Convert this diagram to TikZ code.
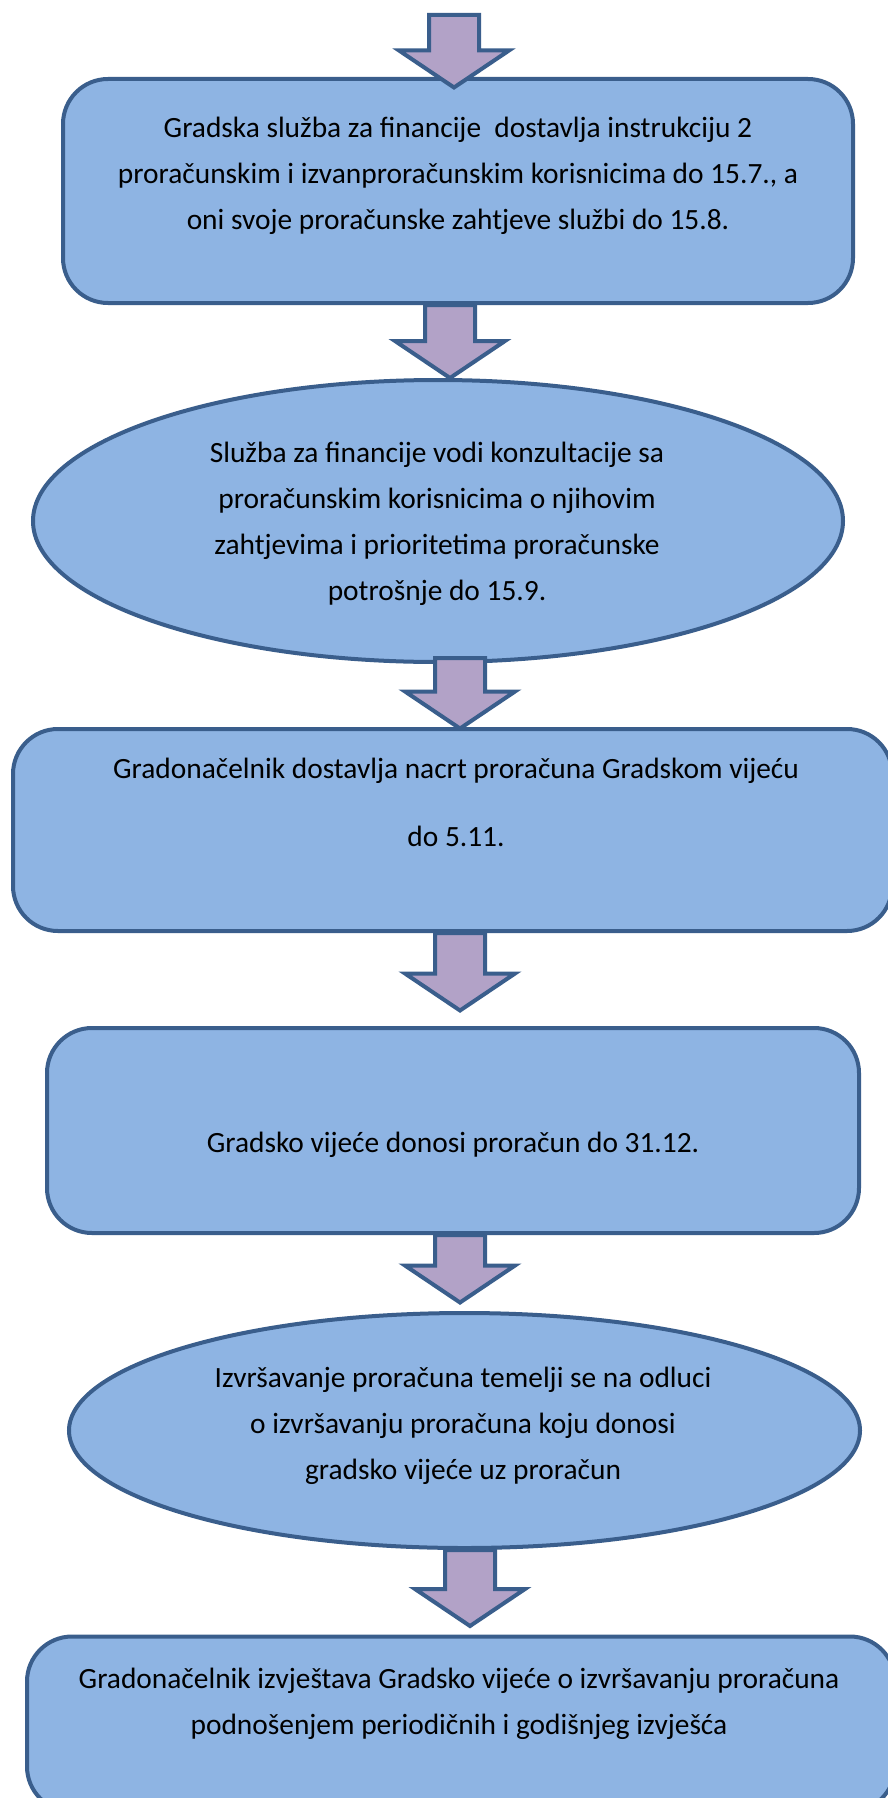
\documentclass[tikz,border=0pt]{standalone}
\usepackage{fontspec}
\setmainfont{Carlito}
\usetikzlibrary{calc,shapes.geometric}
\definecolor{boxfill}{HTML}{8EB4E3}
\definecolor{bord}{HTML}{3A5E8C}
\definecolor{arrfill}{HTML}{B2A2C7}
\newcommand\blockarr[3]{%
  \draw[barrow] let \p1=(#2), \p2=(#3) in
    (#1pt-25pt,\y1) -- (#1pt+25pt,\y1) -- (#1pt+25pt,\y2+37pt) -- (#1pt+55pt,\y2+37pt)
    -- (#1pt,\y2) -- (#1pt-55pt,\y2+37pt) -- (#1pt-25pt,\y2+37pt) -- cycle;}
\newcommand\lines[1]{\begin{tabular}[t]{@{}c@{}}#1\end{tabular}}
\begin{document}
\begin{tikzpicture}[x=1pt,y=-1pt,
  stepbox/.style={draw=bord, fill=boxfill, line width=4pt, rounded corners=45pt, rectangle, inner sep=0pt},
  oval/.style={draw=bord, fill=boxfill, line width=4pt, ellipse, inner sep=0pt},
  barrow/.style={draw=bord, fill=arrfill, line width=4pt, line join=miter},
  txt/.style={anchor=base, inner sep=0pt, font=\fontsize{29.4}{46}\selectfont, text=black}]
\useasboundingbox (0,0) rectangle (888,1798);
\clip (0,0) rectangle (888,1798);
\fill[white] (0,0) rectangle (888,1798);
% shapes
\node[stepbox, minimum width=790pt, minimum height=224pt] (b1) at (458,191) {};
\node[oval, minimum width=810pt, minimum height=282pt] (e1) at (438,521) {};
\node[stepbox, minimum width=879pt, minimum height=202pt] (b3) at (452.5,830) {};
\node[stepbox, minimum width=812pt, minimum height=205pt] (b4) at (453,1130.5) {};
\node[oval, minimum width=791pt, minimum height=235pt] (e2) at (464.5,1430.5) {};
\node[stepbox, minimum width=868pt, minimum height=175pt] (b6) at (461,1724) {};
% texts
\node[txt] (t1) at (458,138) {\lines{Gradska služba za financije \ dostavlja instrukciju 2\\ proračunskim i izvanproračunskim korisnicima do 15.7., a\\ oni svoje proračunske zahtjeve službi do 15.8.}};
\node[txt] (t2) at (437,462) {\lines{Služba za financije vodi konzultacije sa\\ proračunskim korisnicima o njihovim\\ zahtjevima i prioritetima proračunske\\ potrošnje do 15.9.}};
\node[txt] (t3) at (456,778) {\lines{Gradonačelnik dostavlja nacrt proračuna Gradskom vijeću\\[22pt] do 5.11.}};
\node[txt] (t4) at (453,1152) {\lines{Gradsko vijeće donosi proračun do 31.12.}};
\node[txt] (t5) at (463,1387) {\lines{Izvršavanje proračuna temelji se na odluci\\ o izvršavanju proračuna koju donosi\\ gradsko vijeće uz proračun}};
\node[txt] (t6) at (459,1688) {\lines{Gradonačelnik izvještava Gradsko vijeće o izvršavanju proračuna\\ podnošenjem periodičnih i godišnjeg izvješća}};
% arrows
\coordinate (a0) at (454,15);
\blockarr{454}{a0}{$(b1.north)+(0,10.5)$}
\blockarr{450}{b1.south}{e1.north}
\blockarr{460}{$(e1.south)+(0,-6)$}{$(b3.north)+(0,1.5)$}
\blockarr{460}{b3.south}{$(b4.north)+(0,-15.5)$}
\blockarr{460}{b4.south}{$(e2.north)+(0,-8.5)$}
\blockarr{470}{e2.south}{$(b6.north)+(0,-8.5)$}
\end{tikzpicture}
\end{document}
